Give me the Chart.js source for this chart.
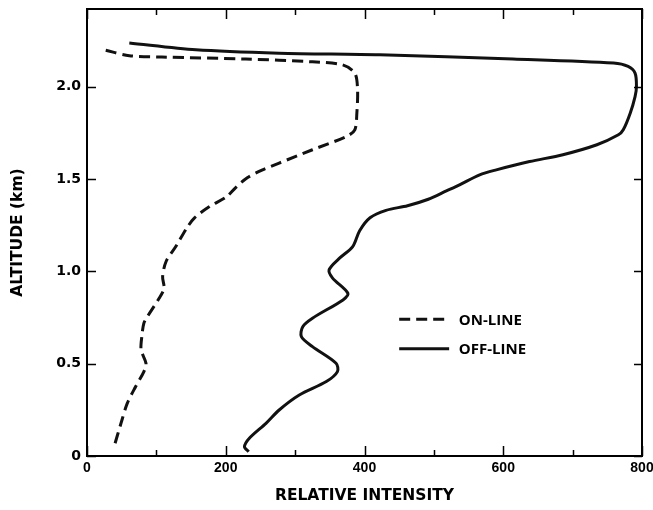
<!DOCTYPE html>
<html>
<head>
<meta charset="utf-8">
<script src="https://cdn.jsdelivr.net/npm/chart.js@4.4.1/dist/chart.umd.min.js"></script>
<style>
  html, body { margin: 0; padding: 0; background: #fff; }
</style>
</head>
<body>
<canvas id="chart" width="653" height="510"></canvas>
<script>
// values: intensity (x) against altitude in km (y)
const onLineIntensity = [27, 61, 108, 229, 325, 368, 386, 390, 389, 386, 374, 325, 277, 253, 231, 214, 201, 176, 155, 144, 128, 114, 109, 111, 104, 87, 82, 79, 78, 85, 82, 70, 58, 49, 39];
const onLineAltitude  = [2.197, 2.167, 2.160, 2.149, 2.134, 2.118, 2.073, 1.983, 1.858, 1.766, 1.730, 1.658, 1.586, 1.549, 1.506, 1.452, 1.403, 1.349, 1.289, 1.235, 1.134, 1.053, 0.971, 0.908, 0.854, 0.754, 0.719, 0.646, 0.574, 0.502, 0.457, 0.375, 0.285, 0.177, 0.050];

const offLineIntensity = [61, 157, 277, 422, 614, 759, 780, 790, 792, 790, 783, 773, 766, 735, 686, 638, 590, 566, 537, 518, 492, 462, 431, 408, 393, 383, 364, 349, 354, 376, 369, 325, 311, 309, 325, 359, 361, 345, 306, 277, 258, 234, 227, 233];
const offLineAltitude  = [2.236, 2.199, 2.181, 2.172, 2.149, 2.127, 2.109, 2.073, 2.001, 1.946, 1.856, 1.766, 1.739, 1.685, 1.631, 1.594, 1.549, 1.522, 1.468, 1.435, 1.390, 1.355, 1.330, 1.290, 1.220, 1.134, 1.071, 1.008, 0.963, 0.881, 0.845, 0.746, 0.700, 0.646, 0.592, 0.502, 0.457, 0.403, 0.330, 0.249, 0.177, 0.096, 0.050, 0.023];

const xMajorTicks = [0, 200, 400, 600, 800];
const xMinorTicks = [100, 300, 500, 700];
const yTicks = [0, 0.5, 1.0, 1.5, 2.0];
const yTickLabels = ['0', '0.5', '1.0', '1.5', '2.0'];

const seriesNames = ['ON-LINE', 'OFF-LINE'];

Chart.defaults.font.family = "'DejaVu Sans', 'Liberation Sans', sans-serif";
Chart.defaults.color = '#000';

const toPoints = (xs, ys) => xs.map((x, i) => ({ x: x, y: ys[i] }));

// frame with inward tick marks, like the printed figure
const frameTicks = {
    id: 'frameTicks',
    afterDatasetsDraw(chart) {
        const { ctx, chartArea: a, scales } = chart;
        ctx.save();
        ctx.strokeStyle = '#000';
        ctx.lineWidth = 2;
        ctx.strokeRect(a.left, a.top, a.right - a.left, a.bottom - a.top);

        ctx.lineWidth = 1.5;
        ctx.beginPath();
        xMajorTicks.concat(xMinorTicks).forEach(v => {
            const px = Math.round(scales.x.getPixelForValue(v)) + 0.5;
            const len = xMajorTicks.includes(v) ? 10 : 6;
            ctx.moveTo(px, a.bottom); ctx.lineTo(px, a.bottom - len);
            ctx.moveTo(px, a.top); ctx.lineTo(px, a.top + len);
        });
        yTicks.forEach(v => {
            const py = Math.round(scales.y.getPixelForValue(v)) + 0.5;
            ctx.moveTo(a.left, py); ctx.lineTo(a.left + 9, py);
            ctx.moveTo(a.right, py); ctx.lineTo(a.right - 8, py);
        });
        ctx.stroke();
        ctx.restore();
    }
};

// legend drawn inside the plot, below the middle
const innerLegend = {
    id: 'innerLegend',
    afterDatasetsDraw(chart) {
        const { ctx, scales } = chart;
        const x0 = scales.x.getPixelForValue(450);
        const x1 = scales.x.getPixelForValue(522);
        const tx = scales.x.getPixelForValue(536);
        const rows = [0.74, 0.58];
        ctx.save();
        ctx.font = "bold 15px 'Open Sans', sans-serif";
        ctx.textBaseline = 'middle';
        ctx.fillStyle = '#000';
        chart.data.datasets.forEach((ds, i) => {
            const py = scales.y.getPixelForValue(rows[i]);
            ctx.strokeStyle = ds.borderColor;
            ctx.lineWidth = ds.borderWidth;
            ctx.setLineDash(ds.borderDash || []);
            ctx.beginPath();
            ctx.moveTo(x0, py);
            ctx.lineTo(x1, py);
            ctx.stroke();
            ctx.fillText(ds.label, tx, py + 1);
        });
        ctx.restore();
    }
};

const ctx = document.getElementById('chart').getContext('2d');

new Chart(ctx, {
    type: 'scatter',
    data: {
        datasets: [
            {
                label: seriesNames[0],
                data: toPoints(onLineIntensity, onLineAltitude),
                showLine: true,
                borderColor: '#111',
                borderWidth: 3,
                borderDash: [11, 6],
                pointRadius: 0,
                tension: 0.3
            },
            {
                label: seriesNames[1],
                data: toPoints(offLineIntensity, offLineAltitude),
                showLine: true,
                borderColor: '#111',
                borderWidth: 3,
                pointRadius: 0,
                tension: 0.3
            }
        ]
    },
    options: {
        responsive: false,
        animation: false,
        devicePixelRatio: 1,
        layout: { padding: { top: 9, right: 11, left: 0, bottom: 0 } },
        plugins: {
            legend: { display: false },
            tooltip: { enabled: false }
        },
        scales: {
            x: {
                type: 'linear',
                min: 0,
                max: 800,
                afterBuildTicks: s => { s.ticks = xMajorTicks.concat(xMinorTicks).sort((a, b) => a - b).map(v => ({ value: v })); },
                afterFit: s => { s.height = 54; s.paddingLeft = 0; s.paddingRight = 0; },
                ticks: {
                    autoSkip: false,
                    maxRotation: 0,
                    padding: 4,
                    font: { family: "'Liberation Sans', Arial, sans-serif", size: 14, weight: 'bold' },
                    callback: v => xMajorTicks.includes(v) ? String(v) : ''
                },
                grid: { display: false, drawTicks: false },
                border: { display: false },
                title: {
                    display: true,
                    text: 'RELATIVE INTENSITY',
                    font: { size: 15.5, weight: 'bold' },
                    padding: { top: 0, bottom: 5 }
                }
            },
            y: {
                min: 0,
                max: 2.42,
                afterBuildTicks: s => { s.ticks = yTicks.map(v => ({ value: v })); },
                afterFit: s => { s.width = 87; s.paddingTop = 0; s.paddingBottom = 0; },
                ticks: {
                    padding: 6,
                    font: { size: 14, weight: 'bold' },
                    callback: (v, i) => yTickLabels[i]
                },
                grid: { display: false, drawTicks: false },
                border: { display: false },
                title: {
                    display: true,
                    text: 'ALTITUDE (km)',
                    font: { size: 15.5, weight: 'bold' },
                    padding: { top: 9, bottom: 0 }
                }
            }
        }
    },
    plugins: [frameTicks, innerLegend]
});
</script>
</body>
</html>
